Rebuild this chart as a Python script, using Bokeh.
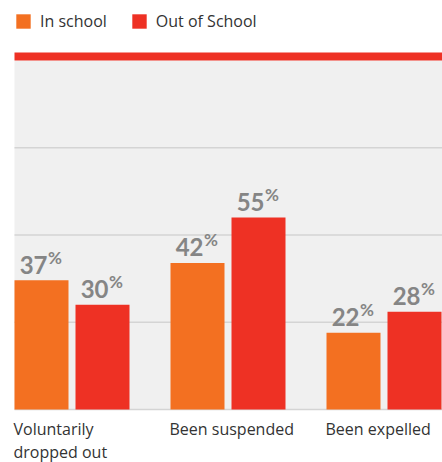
from bokeh.plotting import figure
from bokeh.models import Range1d, Legend, LegendItem
from bokeh.core.properties import value
from bokeh.embed import file_html
from bokeh.resources import INLINE

# ---- data ----
categories = ["Voluntarily\ndropped out", "Been suspended", "Been expelled"]
series_names = ["In school", "Out of School"]
in_school = [37, 42, 22]
out_of_school = [30, 55, 28]
grid_values = [0, 25, 50, 75]
y_max = 100

# ---- layout (pixels) ----
W, H = 442, 462
GROUP_PX = 156.0      # distance between group centres
GROUP0_PX = 71.5      # first group centre from figure left
PLOT_LEFT_PX = 14
TOP_PX = 60           # y = 100
BASE_PX = 409         # y = 0
BAR_PX = 54
BAR_OFF_PX = 30.5
BAND_PX = 8
NUM_GAP_PX = 15.5
PCT_RISE_PX = 23

ppu = (BASE_PX - TOP_PX) / y_max
x_start = -GROUP0_PX / GROUP_PX
x_end = (W - GROUP0_PX) / GROUP_PX
y_start = -(H - BASE_PX) / ppu
y_end = BASE_PX / ppu
plot_left = (PLOT_LEFT_PX - GROUP0_PX) / GROUP_PX

ORANGE = "#f37021"
RED = "#ee3124"
GRAY_BG = "#f0f0f0"
GRID = "#d4d4d4"
NUM = "#858585"
TXT = "#333333"
FONT = "Open Sans"

p = figure(width=W, height=H, output_backend="svg", toolbar_location=None,
           x_range=Range1d(x_start, x_end), y_range=Range1d(y_start, y_end),
           x_axis_location=None, y_axis_location=None, min_border=0)
p.grid.visible = False
p.outline_line_color = None
p.background_fill_color = "white"
p.border_fill_color = "white"

# plot background and top band
p.quad(left=[plot_left], right=[x_end], bottom=[0], top=[y_max],
       fill_color=GRAY_BG, line_color=None)
p.quad(left=[plot_left], right=[x_end], bottom=[y_max], top=[y_max + BAND_PX / ppu],
       fill_color=RED, line_color=None)

# gridlines
p.segment(x0=[plot_left] * len(grid_values), x1=[x_end] * len(grid_values),
          y0=grid_values, y1=grid_values, line_color=GRID, line_width=1.5)

idx = list(range(len(categories)))
off = BAR_OFF_PX / GROUP_PX
bw = BAR_PX / GROUP_PX
x_in = [i - off for i in idx]
x_out = [i + off for i in idx]

r_in = p.vbar(x=x_in, top=in_school, bottom=0, width=bw, fill_color=ORANGE, line_color=None)
r_out = p.vbar(x=x_out, top=out_of_school, bottom=0, width=bw, fill_color=RED, line_color=None)

# value labels
for xs, vals in ((x_in, in_school), (x_out, out_of_school)):
    p.text(x=xs, y=[v + NUM_GAP_PX / ppu for v in vals], text=[str(v) for v in vals],
           text_align="right", text_baseline="alphabetic", x_offset=6,
           text_font=value("Lato"), text_font_style="bold", text_font_size="24px",
           text_color=NUM)
    p.text(x=xs, y=[v + PCT_RISE_PX / ppu for v in vals], text=["%"] * len(vals),
           text_align="left", text_baseline="alphabetic", x_offset=6.5,
           text_font=value("Lato"), text_font_style="bold", text_font_size="17px",
           text_color=NUM)

# category labels
p.text(x=idx, y=[0] * len(idx), text=categories, text_align="left",
       text_baseline="top", x_offset=-(BAR_OFF_PX + BAR_PX / 2) - 1, y_offset=8,
       text_font=value(FONT), text_font_size="16px", text_color=TXT,
       text_line_height=1.05)

legend = Legend(items=[LegendItem(label=series_names[0], renderers=[r_in]),
                       LegendItem(label=series_names[1], renderers=[r_out])],
                location=(PLOT_LEFT_PX, H - 14 - 18), orientation="horizontal",
                glyph_width=18, glyph_height=18, label_height=18, label_standoff=8,
                spacing=23, padding=0, margin=0, border_line_color=None,
                background_fill_alpha=0, label_text_font=FONT,
                label_text_baseline="middle",
                label_text_font_size="16px", label_text_color=TXT)
p.add_layout(legend, "center")

open("out.html", "w").write(file_html(p, INLINE))
